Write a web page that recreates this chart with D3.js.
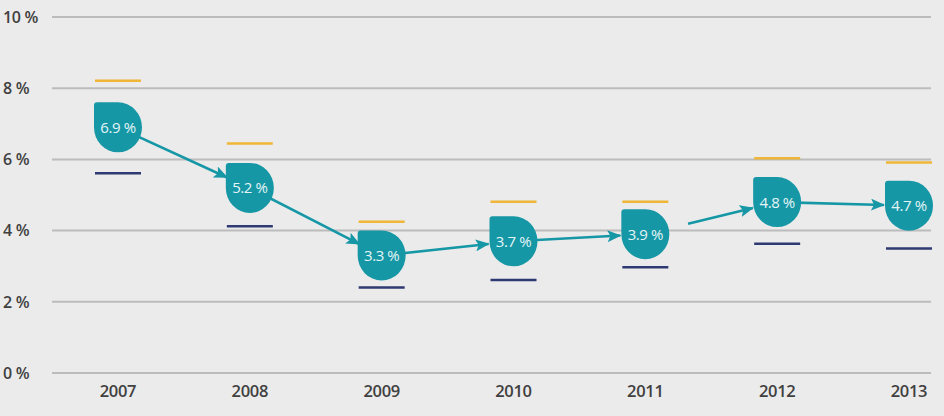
<!DOCTYPE html>
<html>
<head>
<meta charset="utf-8">
<script src="https://cdn.jsdelivr.net/npm/d3@7"></script>
<style>
  html, body { margin: 0; padding: 0; background: #ebebeb; }
  svg { display: block; }
</style>
</head>
<body>
<script>
// ---- Data ----
const years = ["2007", "2008", "2009", "2010", "2011", "2012", "2013"];
const values = [6.9, 5.2, 3.3, 3.7, 3.9, 4.8, 4.7];
const upperBound = [8.21, 6.45, 4.25, 4.81, 4.81, 6.03, 5.91];
const lowerBound = [5.61, 4.12, 2.40, 2.61, 2.97, 3.63, 3.50];
const yTicks = [0, 2, 4, 6, 8, 10];
const detachedArrowFrom = ["2011"]; // arrow starting away from its marker

// ---- Layout ----
const W = 944, H = 416;
const teal = "#1697a6", gold = "#efb637", navy = "#2f3a72";
const svg = d3.select("body").append("svg").attr("width", W).attr("height", H);
svg.append("rect").attr("width", W).attr("height", H).attr("fill", "#ebebeb");

const y = d3.scaleLinear().domain([0, 10]).range([373, 17]);
const x = d3.scalePoint().domain(years).range([118, 909]);

// grid
svg.append("g").selectAll("line").data(yTicks).join("line")
  .attr("x1", 52).attr("x2", 931)
  .attr("y1", d => y(d)).attr("y2", d => y(d))
  .attr("stroke", "#bcbcbc").attr("stroke-width", 2);

// y labels
svg.append("g").selectAll("text").data(yTicks).join("text")
  .attr("x", 3).attr("y", d => y(d)).attr("dy", "0.36em")
  .attr("font-family", "Open Sans, sans-serif").attr("font-size", 16)
  .attr("font-weight", 600).attr("fill", "#404040")
  .attr("letter-spacing", "-0.3")
  .text(d => d + " %");

// x labels
svg.append("g").selectAll("text").data(years).join("text")
  .attr("x", d => x(d)).attr("y", 391).attr("dy", "0.36em")
  .attr("text-anchor", "middle")
  .attr("font-family", "Open Sans, sans-serif").attr("font-size", 16.5)
  .attr("font-weight", 600).attr("fill", "#404040")
  .attr("letter-spacing", "-0.3")
  .text(d => d);

const rows = years.map((yr, i) => ({ yr, v: values[i], hi: upperBound[i], lo: lowerBound[i] }));

// bound bars
const barHalf = 23;
svg.append("g").selectAll("line").data(rows).join("line")
  .attr("x1", d => x(d.yr) - barHalf).attr("x2", d => x(d.yr) + barHalf)
  .attr("y1", d => y(d.hi)).attr("y2", d => y(d.hi))
  .attr("stroke", gold).attr("stroke-width", 2.5);
svg.append("g").selectAll("line").data(rows).join("line")
  .attr("x1", d => x(d.yr) - barHalf).attr("x2", d => x(d.yr) + barHalf)
  .attr("y1", d => y(d.lo)).attr("y2", d => y(d.lo))
  .attr("stroke", navy).attr("stroke-width", 2.5);

// arrow marker
svg.append("defs").append("marker")
  .attr("id", "ah").attr("viewBox", "0 0 14 12")
  .attr("refX", 13).attr("refY", 6)
  .attr("markerWidth", 14).attr("markerHeight", 12)
  .attr("markerUnits", "userSpaceOnUse").attr("orient", "auto")
  .append("path").attr("d", "M0,0 L14,6 L0,12 L3,6 Z").attr("fill", teal);

// arrows
const rx = 24, ry = 25;
const arrows = d3.pairs(rows).map(([a, b]) => {
  const ax = x(a.yr), ay = y(a.v), bx = x(b.yr), by = y(b.v);
  const dx = bx - ax, dy = by - ay, len = Math.hypot(dx, dy);
  const ux = dx / len, uy = dy / len;
  const s = detachedArrowFrom.includes(a.yr) ? 44 : 0;
  const e = 25;
  return { x1: ax + ux * s, y1: ay + uy * s, x2: bx - ux * e, y2: by - uy * e };
});
svg.append("g").selectAll("line").data(arrows).join("line")
  .attr("x1", d => d.x1).attr("y1", d => d.y1)
  .attr("x2", d => d.x2).attr("y2", d => d.y2)
  .attr("stroke", teal).attr("stroke-width", 2.6)
  .attr("marker-end", "url(#ah)");

// markers (teardrop: square top-left corner, rest rounded)
function drop(cx, cy) {
  const x0 = cx - rx, y0 = cy - ry, x1 = cx + rx, y1 = cy + ry, c = 3;
  return `M${x0},${y0 + c} Q${x0},${y0} ${x0 + c},${y0} L${cx},${y0}` +
    ` A${rx},${ry} 0 0 1 ${x1},${cy}` +
    ` A${rx},${ry} 0 0 1 ${cx},${y1}` +
    ` A${rx},${ry} 0 0 1 ${x0},${cy} Z`;
}
const mg = svg.append("g").selectAll("g").data(rows).join("g");
mg.append("path").attr("d", d => drop(x(d.yr), y(d.v))).attr("fill", teal);
mg.append("text")
  .attr("x", d => x(d.yr)).attr("y", d => y(d.v)).attr("dy", "0.36em")
  .attr("text-anchor", "middle")
  .attr("font-family", "Open Sans, sans-serif").attr("font-size", 15)
  .attr("letter-spacing", "-0.4")
  .attr("fill", "#e4f5f6")
  .text(d => d3.format(".1f")(d.v) + " %");
</script>
</body>
</html>
